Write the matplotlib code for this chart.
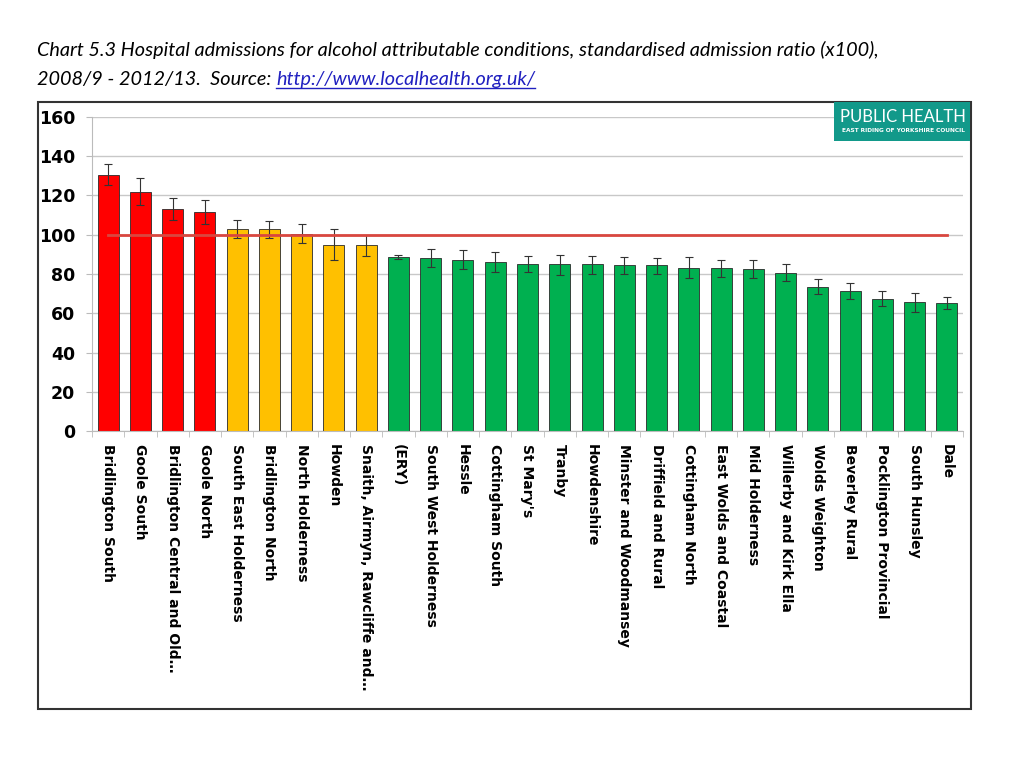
import matplotlib.pyplot as plt
from matplotlib.patches import Rectangle
from matplotlib.lines import Line2D

# ______________________ Data ______________________
areas = ["Bridlington South", "Goole South", "Bridlington Central and Old\u2026",
         "Goole North", "South East Holderness", "Bridlington North",
         "North Holderness", "Howden", "Snaith, Airmyn, Rawcliffe and\u2026",
         "(ERY)", "South West Holderness", "Hessle", "Cottingham South",
         "St Mary's", "Tranby", "Howdenshire", "Minster and Woodmansey",
         "Driffield and Rural", "Cottingham North", "East Wolds and Coastal",
         "Mid Holderness", "Willerby and Kirk Ella", "Wolds Weighton",
         "Beverley Rural", "Pocklington Provincial", "South Hunsley", "Dale"]

ratio = [130.4, 122.0, 113.3, 111.6, 102.9, 102.9, 100.2, 94.6, 94.6,
         88.6, 87.9, 87.1, 86.0, 84.9, 84.9, 84.9, 84.4, 84.4, 83.2,
         83.2, 82.5, 80.4, 73.3, 71.3, 67.3, 65.6, 65.3]
ci_low = [125.5, 115.0, 107.3, 105.4, 98.1, 98.1, 95.7, 86.9, 89.1,
          87.8, 83.5, 82.8, 80.8, 80.8, 79.4, 80.1, 80.1, 80.1, 78.2,
          78.7, 78.2, 76.2, 69.9, 67.2, 63.9, 60.5, 62.4]
ci_high = [136.0, 129.0, 118.5, 117.5, 107.7, 107.1, 105.4, 102.9, 100.0,
           89.6, 92.5, 92.0, 91.3, 89.1, 89.6, 89.1, 88.6, 87.9, 88.6,
           86.9, 86.9, 84.9, 77.7, 75.5, 71.1, 70.2, 68.5]
band = ["higher"] * 4 + ["similar"] * 5 + ["lower"] * 18
england = 100

band_colors = {"higher": "#FF0000", "similar": "#FFC000", "lower": "#00B050"}

# ______________________ Figure ______________________
fig = plt.figure(figsize=(10.24, 7.68), dpi=100)
ax = fig.add_axes([92 / 1024, 1 - 431 / 768, (963 - 92) / 1024, (431 - 117) / 768])

x = list(range(len(areas)))
err = [[r - lo for r, lo in zip(ratio, ci_low)],
       [hi - r for r, hi in zip(ratio, ci_high)]]
ax.bar(x, ratio, width=0.65, color=[band_colors[b] for b in band],
       edgecolor="#2a2a2a", linewidth=0.6, zorder=2)
ax.errorbar(x, ratio, yerr=err, fmt="none", ecolor="#333333",
            elinewidth=0.8, capsize=3, capthick=0.8, zorder=3)
ax.plot([x[0], x[-1]], [england, england], color="#D9473F", lw=2, zorder=4)

ax.set_xlim(-0.5, len(areas) - 0.5)
ax.set_ylim(0, 160)
ax.set_yticks(range(0, 161, 20))
ax.grid(axis="y", color="#C8C8C8", lw=1, zorder=0)
ax.set_axisbelow(True)

for s in ["top", "right"]:
    ax.spines[s].set_visible(False)
ax.spines["left"].set_color("#BBBBBB")
ax.spines["bottom"].set_color("#BBBBBB")

ax.set_xticks(x)
ax.set_xticklabels(areas, rotation=-90, fontsize=10, fontweight="bold",
                   family="DejaVu Sans", va="top", ha="center")
ax.set_xticks([i - 0.5 for i in range(len(areas) + 1)], minor=True)
ax.tick_params(axis="x", which="major", length=0, pad=9)
ax.tick_params(axis="x", which="minor", length=4, color="#BBBBBB")
ax.tick_params(axis="y", length=4, color="#BBBBBB", pad=8)
for t in ax.get_yticklabels():
    t.set_fontsize(12.5)
    t.set_fontweight("bold")
    t.set_family("DejaVu Sans")

# Outer frame
fig.patches.append(Rectangle((38 / 1024, 1 - 709 / 768), (971 - 38) / 1024,
                             (709 - 102) / 768, transform=fig.transFigure,
                             fill=False, edgecolor="#333333", lw=1.5))

# Logo
fig.patches.append(Rectangle((834 / 1024, 1 - 141 / 768), (970 - 834) / 1024,
                             (141 - 102) / 768, transform=fig.transFigure,
                             facecolor="#12998A", edgecolor="none", zorder=5))
fig.text(903 / 1024, 1 - 117 / 768, "PUBLIC HEALTH", color="white",
         fontsize=12, family="Lato", ha="center", va="center", zorder=6)
fig.text(903 / 1024, 1 - 130 / 768, "EAST RIDING OF YORKSHIRE COUNCIL",
         color="white", fontsize=4.2, fontweight="bold", ha="center",
         va="center", zorder=6)

# Title
fig.text(37 / 1024, 1 - 50 / 768,
         "Chart 5.3 Hospital admissions for alcohol attributable conditions, "
         "standardised admission ratio (x100),",
         fontsize=14.3, style="italic", family="Lato", va="center")
t2 = fig.text(37 / 1024, 1 - 80 / 768, "2008/9 - 2012/13.  Source: ",
              fontsize=14.3, style="italic", family="Lato", va="center")
fig.canvas.draw()
bb = t2.get_window_extent()
x_url = bb.x1 / fig.bbox.width
url = fig.text(x_url, 1 - 80 / 768, "http://www.localhealth.org.uk/",
               fontsize=14.3, style="italic", family="Lato", va="center",
               color="#2020C0")
fig.canvas.draw()
ub = url.get_window_extent()
fig.lines.append(Line2D([ub.x0 / fig.bbox.width, ub.x1 / fig.bbox.width],
                        [(ub.y0 + 1) / fig.bbox.height] * 2,
                        transform=fig.transFigure, color="#2020C0", lw=1))

fig.savefig("out.png", dpi=100)
